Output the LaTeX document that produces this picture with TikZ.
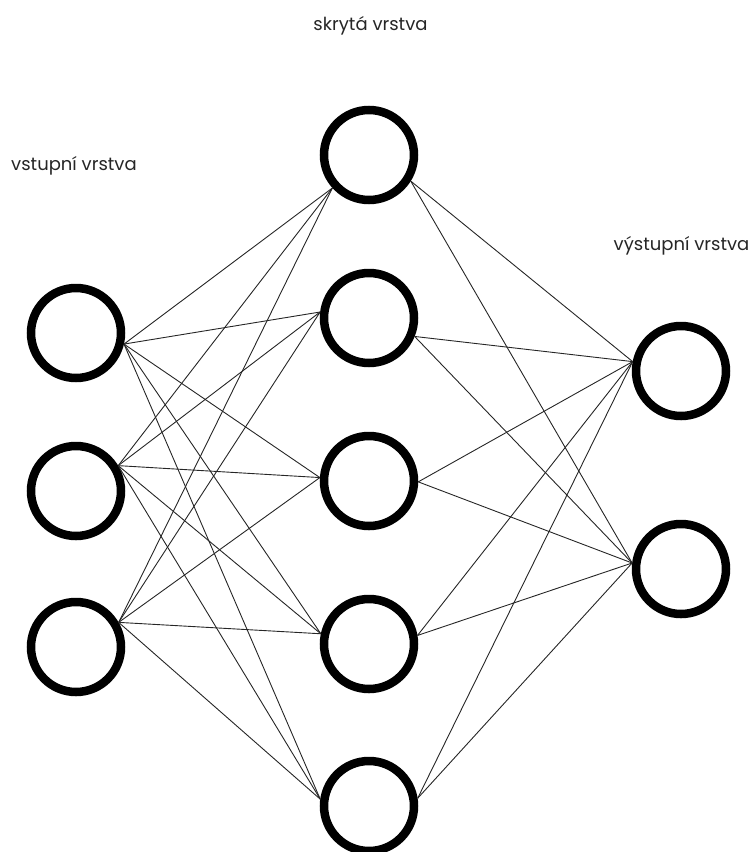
\documentclass[tikz,border=0pt]{standalone}
\usepackage{fontspec}
\setmainfont{Poppins}
\begin{document}
\begin{tikzpicture}[x=1pt,y=-1pt,
  neuron/.style={circle,draw=black,line width=8.5pt,minimum size=90pt,inner sep=0pt,fill=white},
  link/.style={draw=black!85,line width=0.9pt},
  lbl/.style={anchor=base,font=\fontsize{18}{20}\selectfont,text=black!85,inner sep=0pt}]
\useasboundingbox (0,0) rectangle (755,852);
% labels
\node[lbl] (th) at (370.5,30) {skrytá vrstva};
\node[lbl] (ti) at (74,170) {vstupní vrstva};
\node[lbl] (to) at (681.5,250) {výstupní vrstva};
% neurons
\node[neuron] (i1) at (76,333) {};
\node[neuron] (i2) at (76,491) {};
\node[neuron] (i3) at (76,647) {};
\node[neuron] (h1) at (369,155) {};
\node[neuron] (h2) at (369,318) {};
\node[neuron] (h3) at (369,481) {};
\node[neuron] (h4) at (369,644) {};
\node[neuron] (h5) at (369,806) {};
\node[neuron] (o1) at (681,371) {};
\node[neuron] (o2) at (681,569) {};
% connectors: input -> hidden
\foreach \i/\ia in {i1/-13,i2/31.5,i3/30.8}{
  \foreach \h/\ha in {h1/222,h2/173,h3/176.5,h4/168,h5/172}{
    \draw[link] (\i.\ia) -- (\h.\ha);
  }
}
% connectors: hidden -> output
\foreach \h/\ha in {h1/-32,h2/-22,h3/-1,h4/10,h5/9}{
  \foreach \o/\oa in {o1/169,o2/173}{
    \draw[link] (\h.\ha) -- (\o.\oa);
  }
}
\end{tikzpicture}
\end{document}
